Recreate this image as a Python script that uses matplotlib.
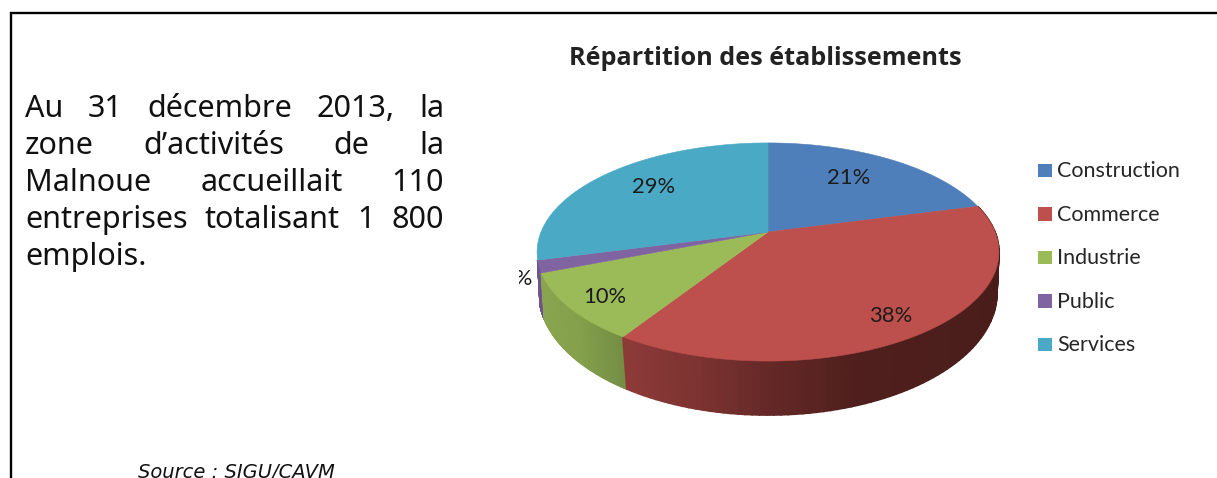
import numpy as np
import matplotlib
matplotlib.use("Agg")
import matplotlib.pyplot as plt
from matplotlib.colors import to_rgb
from matplotlib.patches import Rectangle

categories = ["Construction", "Commerce", "Industrie", "Public", "Services"]
establishments = [23, 42, 11, 2, 32]
colors = ["#4f7fba", "#bd4f4c", "#9bbb59", "#8064a2", "#4aa9c4"]
title = "Répartition des établissements"
paragraph = [
    "Au 31 décembre 2013, la",
    "zone d’activités de la",
    "Malnoue accueillait 110",
    "entreprises totalisant 1 800",
    "emplois.",
]
source = "Source : SIGU/CAVM"

W, H = 1217, 478
fig = plt.figure(figsize=(W / 100, H / 100), dpi=100, facecolor="white")
ax = fig.add_axes([0, 0, 1, 1])
ax.set_xlim(0, W)
ax.set_ylim(H, 0)
ax.axis("off")

# frame
ax.plot([11, 11, W], [H, 13, 13], color="black", lw=1.7, solid_joinstyle="miter")

# perspective projection of the pie
CX = 768
TOP = dict(A=227.0, B=105.4, k=0.1834, y0=232.0)
BOT = dict(A=226.0, B=118.9, k=0.16, y0=273.5)


def project(theta, p):
    u, v = np.sin(theta), np.cos(theta)
    d = 1 + p["k"] * v
    return CX + p["A"] * u / d, p["y0"] - p["B"] * v / d


shares = np.array(establishments, dtype=float) / sum(establishments)
edges = np.concatenate([[0], np.cumsum(shares)]) * 2 * np.pi


def shade(x, xs, cs):
    rgb = np.array([to_rgb(c) for c in cs])
    return tuple(np.interp(x, xs, rgb[:, i]) for i in range(3))


wall_ramps = {
    1: ([623, 700, 770, 860, 992], ["#8e3b39", "#7c3331", "#652927", "#4f1f1d", "#4a1d1b"]),
    2: ([540, 580, 625], ["#8ba550", "#83a04b", "#748d44"]),
    3: ([538, 546], ["#6f5490", "#6a4f8a"]),
}
for i in [3, 2, 1]:
    t = np.linspace(edges[i], edges[i + 1], 90)
    xt, yt = project(t, TOP)
    xb, yb = project(t, BOT)
    xs, cs = wall_ramps[i]
    for j in range(len(t) - 1):
        c = shade(0.5 * (xt[j] + xb[j]), xs, cs)
        ax.fill([xt[j], xt[j + 1], xb[j + 1], xb[j]],
                [yt[j], yt[j + 1], yb[j + 1], yb[j]],
                color=c, lw=1.2, zorder=2)

for i, col in enumerate(colors):
    t = np.linspace(edges[i], edges[i + 1], 200)
    x, y = project(t, TOP)
    ax.fill(np.r_[CX, x], np.r_[TOP["y0"], y], color=col, lw=0.4, zorder=3)

# percentage labels
label_pos = [(849, 178), (891, 316), (605, 297), (517, 279), (654, 187)]
for i, (share, (lx, ly)) in enumerate(zip(shares, label_pos)):
    txt = ax.text(lx, ly, f"{share * 100:.0f}%", family="Lato", fontsize=15.8,
                  color="#1c1c1c", ha="center", va="center", zorder=5)
    if categories[i] == "Public":
        clip = Rectangle((519, 260), 30, 40, transform=ax.transData)
        txt.set_clip_path(clip)
        txt.set_clip_on(True)

# title
ax.text(765, 58.5, title, family="Open Sans", weight="bold", fontsize=18.2,
        color="#222222", ha="center", va="center", zorder=5)

# legend
for i, (name, col) in enumerate(zip(categories, colors)):
    y = 170 + i * 43.6
    ax.add_patch(Rectangle((1038, y - 6.5), 13.5, 13.5, facecolor=col, edgecolor="none", zorder=4))
    ax.text(1057, y + 1, name, family="Lato", fontsize=15.5, color="#262626",
            ha="left", va="center", zorder=5)

# justified paragraph
renderer = fig.canvas.get_renderer()
L, R = 25, 444
base = 117
pitch = 37
font = dict(family="Noto Sans", fontsize=22, color="#111111", va="baseline", zorder=5)
for n, line in enumerate(paragraph):
    words = line.split(" ")
    y = base + n * pitch
    arts = [ax.text(0, y, w, ha="left", **font) for w in words]
    widths = [a.get_window_extent(renderer).width for a in arts]
    if n == len(paragraph) - 1 or len(words) == 1:
        gap = 8
    else:
        gap = (R - L - sum(widths)) / (len(words) - 1)
    x = L
    for a, wd in zip(arts, widths):
        a.set_x(x)
        x += wd + gap

# source
ax.text(138, 477.5, source, family="DejaVu Sans", style="italic", fontsize=14,
        color="#111111", ha="left", va="baseline", zorder=5)

fig.savefig("out.png", dpi=100)
